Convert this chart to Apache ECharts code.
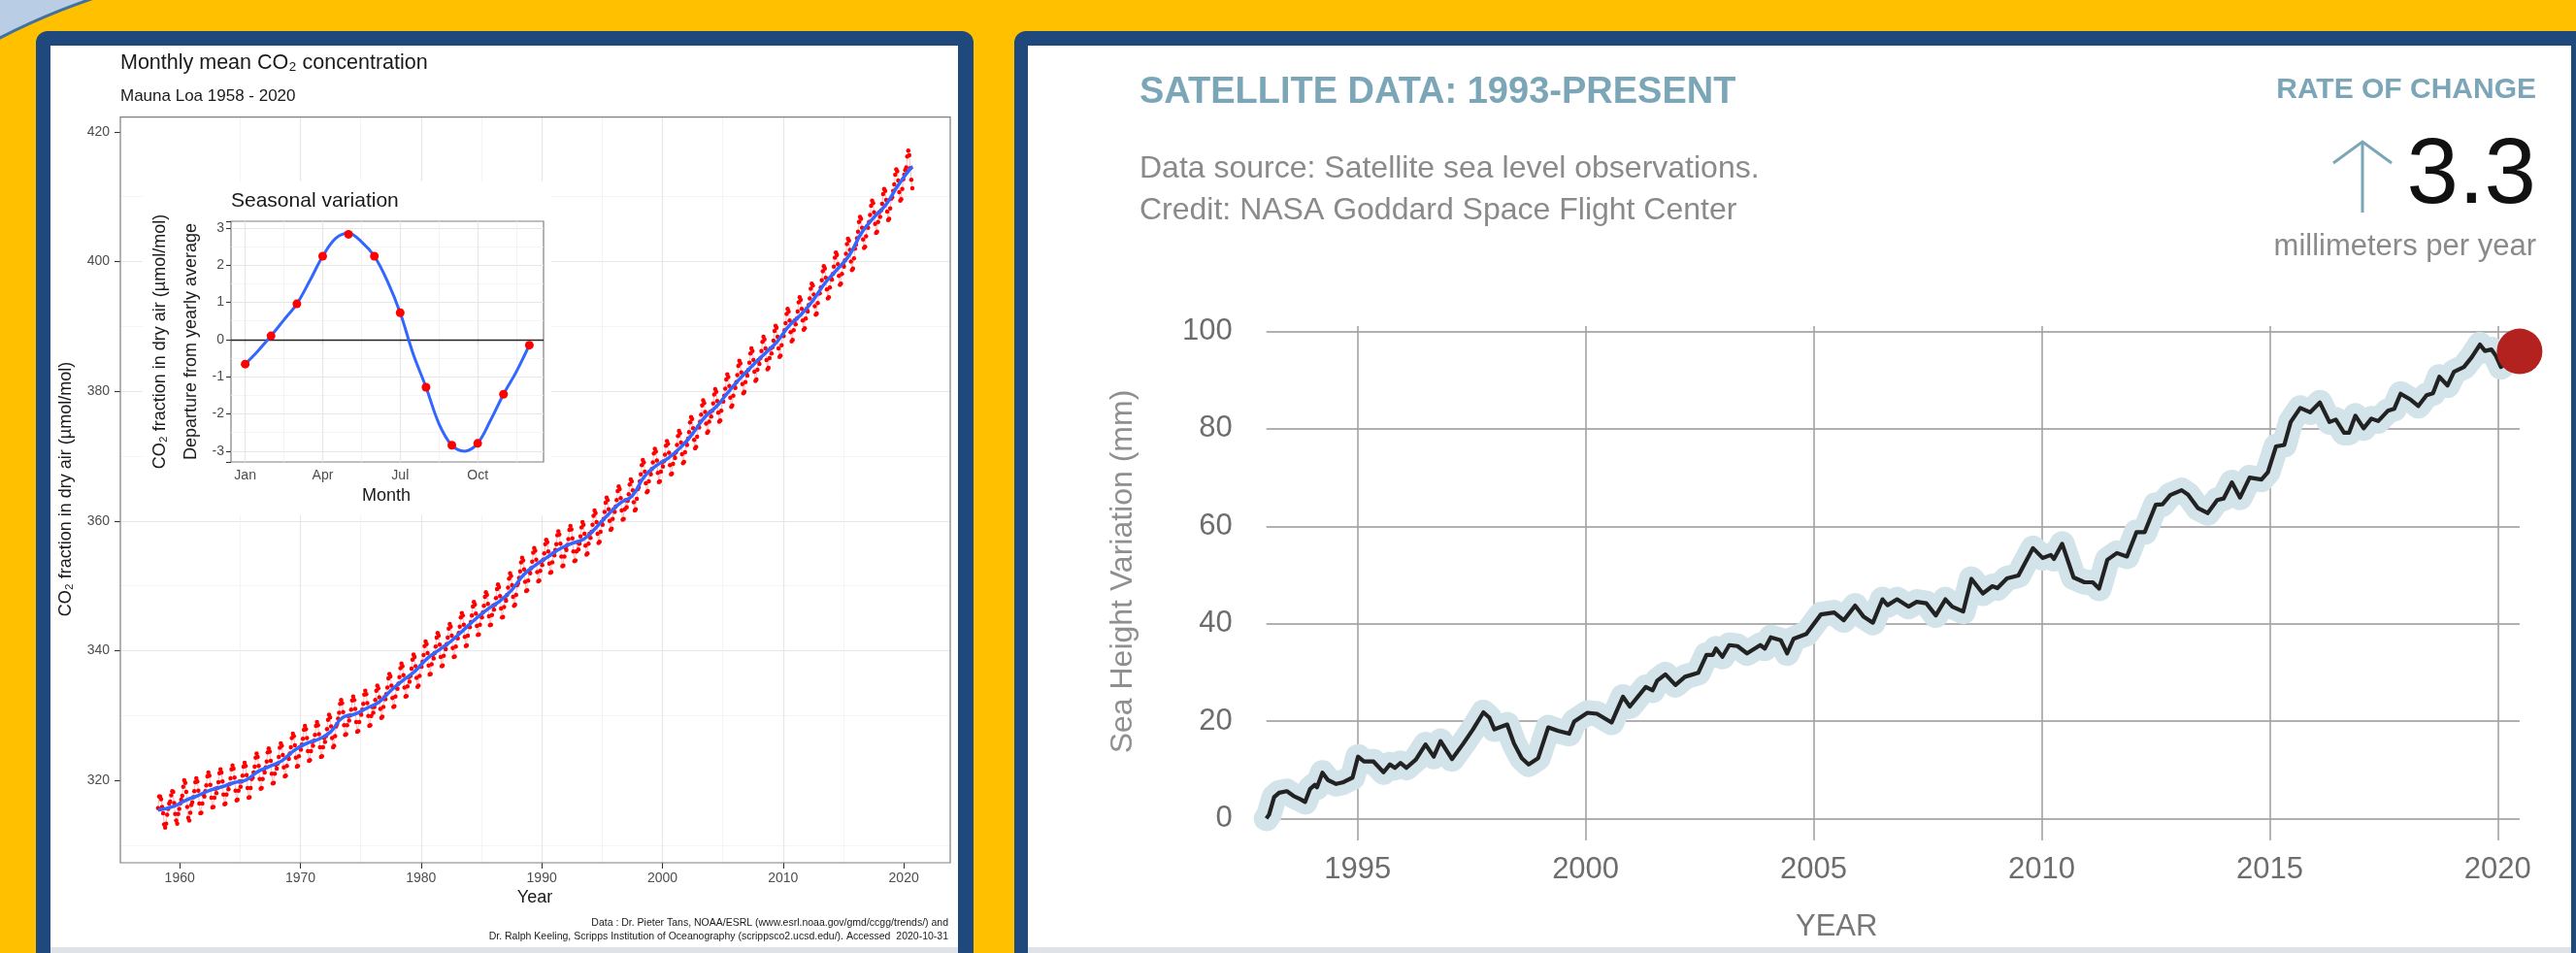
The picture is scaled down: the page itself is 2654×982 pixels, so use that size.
<!DOCTYPE html>
<html><head><meta charset="utf-8">
<script src="https://cdn.jsdelivr.net/npm/echarts@6/dist/echarts.min.js"></script>
<style>html,body{margin:0;padding:0;background:#B9CDE5;}#chart{width:2654px;height:982px;}</style>
</head><body><div id="chart"></div>
<script>
// ---------------- DATA ----------------
// Mauna Loa monthly mean CO2 (ppm), starting March 1958
const co2StartYear = 1958, co2StartMonth = 3;
const co2Monthly = [
315.7,317.5,317.5,317.1,315.9,314.9,313.2,312.7,313.3,314.7,
315.6,316.4,316.7,317.7,318.3,318.2,316.5,314.8,313.8,313.3,314.8,315.6,
316.4,317.0,317.6,319.0,320.0,319.6,318.2,315.9,314.2,313.8,315.0,316.2,
316.6,317.4,318.3,319.7,320.3,319.8,318.4,316.4,314.9,315.0,316.4,317.8,
317.5,318.3,319.2,320.6,321.2,320.7,319.3,317.3,315.8,315.9,317.3,318.7,
318.0,318.8,319.7,321.1,321.7,321.2,319.8,317.8,316.3,316.4,317.8,319.2,
318.6,319.4,320.3,321.7,322.3,321.8,320.4,318.4,316.9,317.0,318.4,319.8,
319.0,319.8,320.7,322.1,322.7,322.2,320.8,318.8,317.3,317.4,318.8,320.2,
320.4,321.2,322.1,323.5,324.1,323.6,322.2,320.2,318.7,318.8,320.2,321.6,
321.2,322.0,322.9,324.3,324.9,324.4,323.0,321.0,319.5,319.6,321.0,322.4,
321.8,322.6,323.6,325.0,325.7,325.3,323.9,322.0,320.6,320.7,322.2,323.6,
323.3,324.1,325.1,326.5,327.2,326.8,325.4,323.5,322.1,322.2,323.7,325.1,
324.7,325.5,326.4,327.8,328.4,327.9,326.5,324.5,323.0,323.1,324.5,325.9,
325.3,326.1,327.0,328.4,329.0,328.5,327.1,325.1,323.6,323.7,325.1,326.5,
325.9,326.8,327.9,329.3,330.1,329.7,328.3,326.5,325.1,325.3,326.8,328.3,
328.7,329.5,330.4,331.8,332.4,331.9,330.5,328.5,327.0,327.1,328.5,329.9,
329.2,330.0,330.9,332.3,332.9,332.4,331.0,329.0,327.5,327.6,329.0,330.4,
330.1,330.9,331.8,333.2,333.8,333.3,331.9,329.9,328.4,328.5,329.9,331.3,
330.4,331.3,332.4,333.8,334.6,334.2,332.8,331.0,329.6,329.8,331.3,332.8,
332.5,333.3,334.3,335.7,336.4,336.0,334.6,332.7,331.3,331.4,332.9,334.3,
334.1,334.9,335.9,337.3,338.0,337.6,336.2,334.3,332.9,333.0,334.5,335.9,
335.2,336.1,337.2,338.6,339.4,339.0,337.6,335.8,334.4,334.6,336.1,337.6,
337.5,338.3,339.3,340.7,341.4,341.0,339.6,337.7,336.3,336.4,337.9,339.3,
338.8,339.6,340.6,342.0,342.7,342.3,340.9,339.0,337.6,337.7,339.2,340.6,
340.2,341.0,342.0,343.4,344.1,343.7,342.3,340.4,339.0,339.1,340.6,342.0,
341.9,342.7,343.7,345.1,345.8,345.4,344.0,342.1,340.7,340.8,342.3,343.7,
343.6,344.4,345.4,346.8,347.5,347.1,345.7,343.8,342.4,342.5,344.0,345.4,
345.1,345.9,346.9,348.3,349.0,348.6,347.2,345.3,343.9,344.0,345.5,346.9,
346.3,347.1,348.1,349.5,350.2,349.8,348.4,346.5,345.1,345.2,346.7,348.1,
347.7,348.6,349.7,351.1,351.9,351.5,350.1,348.3,346.9,347.1,348.6,350.1,
350.4,351.2,352.2,353.6,354.3,353.9,352.5,350.6,349.2,349.3,350.8,352.2,
351.9,352.7,353.7,355.1,355.8,355.4,354.0,352.1,350.7,350.8,352.3,353.7,
353.2,354.0,355.0,356.4,357.1,356.7,355.3,353.4,352.0,352.1,353.6,355.0,
354.7,355.5,356.4,357.8,358.4,357.9,356.5,354.5,353.0,353.1,354.5,355.9,
355.5,356.3,357.2,358.6,359.2,358.7,357.3,355.3,353.8,353.9,355.3,356.7,
355.6,356.5,357.6,359.0,359.8,359.4,358.0,356.2,354.8,355.0,356.5,358.0,
357.4,358.3,359.4,360.8,361.6,361.2,359.8,358.0,356.6,356.8,358.3,359.8,
359.4,360.3,361.4,362.8,363.6,363.2,361.8,360.0,358.6,358.8,360.3,361.8,
361.4,362.2,363.2,364.6,365.3,364.9,363.5,361.6,360.2,360.3,361.8,363.2,
362.1,363.1,364.1,365.6,366.4,366.1,364.7,362.9,361.6,361.8,363.4,364.9,
365.2,366.1,367.2,368.6,369.4,369.0,367.6,365.8,364.4,364.6,366.1,367.6,
367.2,368.0,369.0,370.4,371.1,370.7,369.3,367.4,366.0,366.1,367.6,369.0,
368.4,369.2,370.2,371.6,372.3,371.9,370.5,368.6,367.2,367.3,368.8,370.2,
369.7,370.6,371.7,373.1,373.9,373.5,372.1,370.3,368.9,369.1,370.6,372.1,
371.7,372.7,373.7,375.2,376.0,375.7,374.3,372.5,371.2,371.4,373.0,374.5,
374.4,375.3,376.4,377.8,378.6,378.2,376.8,375.0,373.6,373.8,375.3,376.8,
376.1,377.0,378.1,379.5,380.3,379.9,378.5,376.7,375.3,375.5,377.0,378.5,
378.4,379.3,380.4,381.8,382.6,382.2,380.8,379.0,377.6,377.8,379.3,380.8,
380.5,381.4,382.5,383.9,384.7,384.3,382.9,381.1,379.7,379.9,381.4,382.9,
382.4,383.3,384.4,385.8,386.6,386.2,384.8,383.0,381.6,381.8,383.3,384.8,
384.2,385.1,386.2,387.6,388.4,388.0,386.6,384.8,383.4,383.6,385.1,386.6,
385.8,386.8,387.8,389.3,390.1,389.8,388.4,386.6,385.3,385.5,387.1,388.6,
388.5,389.4,390.5,391.9,392.7,392.3,390.9,389.1,387.7,387.9,389.4,390.9,
390.3,391.2,392.3,393.7,394.5,394.1,392.7,390.9,389.5,389.7,391.2,392.7,
392.3,393.3,394.3,395.8,396.6,396.3,394.9,393.1,391.8,392.0,393.6,395.1,
395.1,396.0,397.1,398.5,399.3,398.9,397.5,395.7,394.3,394.5,396.0,397.5,
397.2,398.1,399.2,400.6,401.4,401.0,399.6,397.8,396.4,396.6,398.1,399.6,
399.2,400.2,401.2,402.7,403.5,403.2,401.8,400.0,398.7,398.9,400.5,402.0,
402.6,403.6,404.6,406.1,406.9,406.6,405.2,403.4,402.1,402.3,403.9,405.4,
405.2,406.1,407.2,408.6,409.4,409.0,407.6,405.8,404.4,404.6,406.1,407.6,
406.9,407.9,408.9,410.4,411.2,410.9,409.5,407.7,406.4,406.6,408.2,409.7,
409.9,410.9,411.9,413.4,414.2,413.9,412.5,410.7,409.4,409.6,411.2,412.7,
413.4,414.1,414.5,416.2,417.1,416.4,414.4,412.6,411.3
];
// smoothed trend (blue line)
const co2TrendYears = [1958.2,1959.5,1960.5,1961.5,1962.5,1963.5,1964.5,1965.5,1966.5,1967.5,1968.5,1969.5,1970.5,1971.5,1972.5,1973.5,1974.5,1975.5,1976.5,1977.5,1978.5,1979.5,1980.5,1981.5,1982.5,1983.5,1984.5,1985.5,1986.5,1987.5,1988.5,1989.5,1990.5,1991.5,1992.5,1993.5,1994.5,1995.5,1996.5,1997.5,1998.5,1999.5,2000.5,2001.5,2002.5,2003.5,2004.5,2005.5,2006.5,2007.5,2008.5,2009.5,2010.5,2011.5,2012.5,2013.5,2014.5,2015.5,2016.5,2017.5,2018.5,2019.5,2020.5,2020.75];
const co2TrendValues = [315.4,315.98,316.91,317.64,318.45,318.99,319.62,320.04,321.37,322.18,323.05,324.62,325.68,326.32,327.46,329.68,330.19,331.12,332.03,333.84,335.41,336.84,338.76,340.12,341.48,343.15,344.85,346.35,347.61,349.31,351.69,353.20,354.45,355.70,356.54,357.21,358.96,360.97,362.74,363.88,366.84,368.54,369.71,371.32,373.45,375.98,377.70,379.98,382.09,384.02,385.83,387.64,390.10,391.85,394.06,396.74,398.81,401.01,404.41,406.76,408.72,411.66,414.24,414.6];
const co2YearTicks = [1960,1970,1980,1990,2000,2010,2020];
const co2ValueTicks = [320,340,360,380,400,420];

// Seasonal variation inset
const seasonalMonths = [1,2,3,4,5,6,7,8,9,10,11,12];
const seasonalValues = [-0.66,0.10,0.96,2.24,2.83,2.24,0.72,-1.28,-2.84,-2.79,-1.47,-0.15];
const seasonalCurveMonths = [1,1.5,2,2.5,3,3.5,4,4.5,5,5.5,6,6.5,7,7.5,8,8.5,9,9.5,10,10.5,11,11.5,12];
const seasonalCurveValues = [-0.66,-0.30,0.10,0.53,0.96,1.58,2.24,2.72,2.86,2.63,2.24,1.58,0.72,-0.38,-1.28,-2.26,-2.84,-3.0,-2.79,-2.17,-1.47,-0.86,-0.15];
const monthTickValues = [1,4,7,10];
const monthTickNames = ['Jan','Apr','Jul','Oct'];
const monthMinorLines = [2.5,5.5,8.5,11.5];

// Satellite sea level (mm)
const seaYears = [1993.0,1993.06,1993.17,1993.28,1993.45,1993.6,1993.74,1993.85,1993.96,1994.06,1994.11,1994.23,1994.35,1994.53,1994.67,1994.89,1995.01,1995.14,1995.35,1995.57,1995.71,1995.82,1995.94,1996.07,1996.28,1996.49,1996.67,1996.82,1997.07,1997.32,1997.53,1997.76,1997.89,1998.0,1998.28,1998.43,1998.6,1998.75,1998.96,1999.18,1999.39,1999.64,1999.75,2000.04,2000.25,2000.57,2000.82,2000.97,2001.32,2001.47,2001.57,2001.75,2001.97,2002.18,2002.47,2002.65,2002.79,2002.86,2003.0,2003.15,2003.33,2003.54,2003.83,2003.93,2004.06,2004.28,2004.42,2004.56,2004.84,2005.16,2005.45,2005.66,2005.91,2006.09,2006.3,2006.51,2006.62,2006.83,2007.08,2007.26,2007.47,2007.68,2007.89,2008.04,2008.28,2008.46,2008.71,2008.92,2009.03,2009.24,2009.49,2009.81,2010.02,2010.2,2010.27,2010.45,2010.7,2010.94,2011.12,2011.26,2011.44,2011.65,2011.87,2012.08,2012.26,2012.5,2012.65,2012.82,2013.07,2013.21,2013.43,2013.64,2013.85,2013.99,2014.17,2014.35,2014.56,2014.82,2014.96,2015.14,2015.32,2015.46,2015.67,2015.89,2016.1,2016.31,2016.45,2016.63,2016.74,2016.88,2017.06,2017.23,2017.38,2017.59,2017.73,2017.87,2018.09,2018.26,2018.44,2018.58,2018.72,2018.9,2019.04,2019.26,2019.43,2019.61,2019.72,2019.86,2019.96,2020.07,2020.48];
const seaValues = [0.0,0.8,4.4,5.3,5.6,4.6,4.0,3.4,6.1,6.9,6.4,9.4,7.9,7.1,7.4,8.4,12.7,11.7,11.7,9.5,11.1,10.4,11.4,10.4,12.1,15.2,12.7,15.9,12.2,15.4,18.3,21.8,20.7,18.3,19.3,15.4,12.4,11.1,12.4,18.7,18.0,17.4,19.9,21.7,21.5,19.7,25.0,23.0,27.0,26.3,28.3,29.6,27.4,29.1,29.9,33.6,33.6,34.9,33.2,35.6,35.4,33.9,35.6,34.9,37.2,36.6,33.9,36.9,37.9,41.9,42.3,40.7,43.7,41.5,40.2,45.0,43.8,45.0,43.5,44.5,44.2,41.7,45.0,43.5,42.5,49.2,46.2,47.7,47.3,49.3,49.9,55.5,53.5,54.1,53.3,56.4,49.5,48.5,48.5,47.2,53.1,54.5,53.8,58.8,58.8,64.4,64.5,66.4,67.4,66.5,63.7,62.7,65.4,65.7,69.0,65.9,70.0,69.6,71.1,76.4,76.7,81.4,84.3,83.4,85.4,81.4,81.9,79.2,79.2,82.7,80.1,82.1,81.6,83.7,84.1,87.2,86.0,84.7,86.9,87.3,90.7,88.9,91.7,92.7,94.7,97.3,96.0,96.3,95.0,92.7,95.9];
const seaYearTicks = [1995,2000,2005,2010,2015,2020];
const seaValueTicks = [0,20,40,60,80,100];
const rateOfChange = '3.3';

// ---------------- CHART ----------------
const FONT = '"Liberation Sans", Arial, Helvetica, sans-serif';
const chart = echarts.init(document.getElementById('chart'), null, {renderer: 'canvas', width: 2654, height: 982});

const co2Points = co2Monthly.map((v, i) => [co2StartYear + (co2StartMonth - 1 + i + 0.5) / 12, v]);
const co2Trend = co2TrendYears.map((y, i) => [y, co2TrendValues[i]]);
const seasonalPts = seasonalMonths.map((m, i) => [m, seasonalValues[i]]);
const seasonalCurve = seasonalCurveMonths.map((m, i) => [m, seasonalCurveValues[i]]);
const seaPts = seaYears.map((y, i) => [y, seaValues[i]]);
const seaLast = seaPts[seaPts.length - 1];

function txt(text, x, y, size, color, o) {
  o = o || {};
  const al = o.align || 'left';
  return {type: 'text', x: x, y: y, z: o.z == null ? 20 : o.z, rotation: o.rotation || 0, silent: true,
    style: {text: text, fill: color, fontSize: size, fontFamily: FONT, fontWeight: o.weight || 'normal',
      align: al, verticalAlign: 'middle', textAlign: al, textVerticalAlign: 'middle'}};
}
function rect(x, y, w, h, fill, z, extra) {
  const e = {type: 'rect', z: z, silent: true, shape: {x: x, y: y, width: w, height: h, r: (extra && extra.r) || 0},
    style: {fill: fill}};
  if (extra && extra.stroke) { e.style.stroke = extra.stroke; e.style.lineWidth = extra.lineWidth; }
  return e;
}

const minorGrid = {show: true, lineStyle: {color: '#f1f1f1', width: 0.8}};
const majorGrid = {show: true, lineStyle: {color: '#e6e6e6', width: 1.2}};
const tickLbl = {color: '#4d4d4d', fontSize: 14, fontFamily: FONT};

const option = {
  animation: false,
  textStyle: {fontFamily: FONT},
  grid: [
    {left: 124, top: 120.7, width: 855, height: 768.3, show: true, borderColor: '#7f7f7f', borderWidth: 1.2, backgroundColor: 'transparent', z: 1},
    {left: 238, top: 228, width: 322, height: 248, show: true, borderColor: '#7f7f7f', borderWidth: 1.2, backgroundColor: 'transparent', z: 6},
    {left: 1304.7, top: 336, width: 1291.2, height: 530, show: false}
  ],
  xAxis: [
    {type: 'value', gridIndex: 0, min: 1955.08, max: 2023.85, axisLine: {show: false},
     axisTick: {show: true, length: 6, lineStyle: {color: '#333', width: 1.1}, customValues: co2YearTicks},
     axisLabel: Object.assign({margin: 9, customValues: co2YearTicks, formatter: v => co2YearTicks.includes(v) ? String(v) : ''}, tickLbl),
     splitLine: Object.assign({showMinLine: false, showMaxLine: false}, majorGrid), minorTick: {show: false, splitNumber: 2}, minorSplitLine: minorGrid},
    {type: 'value', gridIndex: 1, min: 0.45, max: 12.55, z: 6, axisLine: {show: false},
     axisTick: {show: true, length: 5, lineStyle: {color: '#333', width: 1.1}, customValues: monthTickValues},
     axisLabel: Object.assign({margin: 7, customValues: monthTickValues, formatter: v => { const k = monthTickValues.indexOf(v); return k >= 0 ? monthTickNames[k] : ''; }}, tickLbl),
     splitLine: {show: false}},
    {type: 'value', gridIndex: 2, min: 1993, max: seaLast[0], axisLine: {show: false}, axisTick: {show: false},
     axisLabel: {margin: 15, color: '#6d6d6d', fontSize: 31, fontFamily: FONT, formatter: v => seaYearTicks.includes(v) ? String(v) : ''},
     splitLine: {show: true, showMinLine: false, showMaxLine: false, lineStyle: {color: '#a3a3a3', width: 1.6}}}
  ],
  yAxis: [
    {type: 'value', gridIndex: 0, min: 307.28, max: 422.27, axisLine: {show: false},
     axisTick: {show: true, length: 6, lineStyle: {color: '#333', width: 1.1}, customValues: co2ValueTicks},
     axisLabel: Object.assign({margin: 11, customValues: co2ValueTicks, formatter: v => co2ValueTicks.includes(v) ? String(v) : ''}, tickLbl),
     splitLine: Object.assign({showMinLine: false, showMaxLine: false}, majorGrid), minorTick: {show: false, splitNumber: 2}, minorSplitLine: minorGrid},
    {type: 'value', gridIndex: 1, min: -3.29, max: 3.18, z: 6, axisLine: {show: false},
     axisTick: {show: true, length: 5, lineStyle: {color: '#333', width: 1.1}},
     axisLabel: Object.assign({margin: 7, formatter: v => Number.isInteger(v) ? String(v) : ''}, tickLbl),
     splitLine: Object.assign({showMinLine: false, showMaxLine: false}, majorGrid), minorTick: {show: false, splitNumber: 2}, minorSplitLine: minorGrid},
    {type: 'value', gridIndex: 2, min: -4.5, max: 101.1, axisLine: {show: false}, axisTick: {show: false},
     axisLabel: {margin: 35, color: '#6d6d6d', fontSize: 31, fontFamily: FONT, formatter: v => seaValueTicks.includes(v) ? String(v) : ''},
     splitLine: {show: true, showMinLine: false, showMaxLine: false, lineStyle: {color: '#b0b0b0', width: 2.2}}}
  ],
  series: [
    // main CO2 chart
    {type: 'line', xAxisIndex: 0, yAxisIndex: 0, data: co2Points, z: 3, symbol: 'circle', symbolSize: 4.5,
     itemStyle: {color: '#ff0000'}, lineStyle: {color: 'rgba(255,60,60,0.35)', width: 1}, silent: true},
    {type: 'line', xAxisIndex: 0, yAxisIndex: 0, data: co2Trend, z: 4, smooth: true, symbol: 'none',
     lineStyle: {color: '#3366FF', width: 3.5}, silent: true},
    // inset helper: gridlines + zero line
    {type: 'line', xAxisIndex: 1, yAxisIndex: 1, data: [], z: 6.5, silent: true,
     markLine: {z: 6.5, silent: true, symbol: 'none', label: {show: false}, animation: false,
       data: monthTickValues.map(v => ({xAxis: v, lineStyle: {color: '#e6e6e6', width: 1.2, type: 'solid'}}))
         .concat(monthMinorLines.map(v => ({xAxis: v, lineStyle: {color: '#f1f1f1', width: 0.8, type: 'solid'}})))
         .concat([{yAxis: 0, lineStyle: {color: '#222', width: 1.4, type: 'solid'}}])}},
    {type: 'line', xAxisIndex: 1, yAxisIndex: 1, data: seasonalCurve, z: 8, smooth: 0.35, symbol: 'none',
     lineStyle: {color: '#3366FF', width: 3}, silent: true},
    {type: 'scatter', xAxisIndex: 1, yAxisIndex: 1, data: seasonalPts, z: 9, symbolSize: 9,
     itemStyle: {color: '#ff0000', opacity: 1}, silent: true},
    // sea level
    {type: 'line', xAxisIndex: 2, yAxisIndex: 2, data: seaPts, z: 2, symbol: 'none', silent: true,
     lineStyle: {color: '#d2e3ea', width: 26, join: 'round', cap: 'round'}},
    {type: 'line', xAxisIndex: 2, yAxisIndex: 2, data: seaPts, z: 3, symbol: 'none', silent: true,
     lineStyle: {color: '#222222', width: 4.2, join: 'round'}},
    {type: 'scatter', xAxisIndex: 2, yAxisIndex: 2, data: [seaLast], z: 5, symbolSize: 47, clip: false,
     itemStyle: {color: '#B3221F', opacity: 1}, silent: true}
  ],
  graphic: {elements: [
    rect(0, 0, 2654, 982, '#B9CDE5', -10),
    rect(-373, -38, 3600, 2200, '#FFC000', -9, {r: [690, 0, 0, 0], stroke: '#41719C', lineWidth: 3}),
    rect(37, 32, 966, 1000, '#1F497D', -8, {r: 12}),
    rect(52, 47, 935, 929, '#ffffff', -7),
    rect(52, 976, 935, 6, '#dfe3e8', -7),
    rect(1045, 32, 1700, 1000, '#1F497D', -8, {r: 12}),
    rect(1059, 47, 1590, 929, '#ffffff', -7),
    rect(1059, 976, 1590, 6, '#dfe3e8', -7),
    // inset white box
    rect(147, 187, 421, 344, '#ffffff', 5),
    // left chart texts
    txt('Monthly mean CO\u2082 concentration', 124, 65, 21.5, '#1a1a1a'),
    txt('Mauna Loa 1958 - 2020', 124, 99, 17, '#1a1a1a'),
    txt('CO\u2082 fraction in dry air (\u00b5mol/mol)', 68, 504, 18, '#1a1a1a', {align: 'center', rotation: Math.PI / 2}),
    txt('Year', 551, 925, 18, '#1a1a1a', {align: 'center'}),
    txt('Data : Dr. Pieter Tans, NOAA/ESRL (www.esrl.noaa.gov/gmd/ccgg/trends/) and', 977, 951, 10.5, '#1a1a1a', {align: 'right'}),
    txt('Dr. Ralph Keeling, Scripps Institution of Oceanography (scrippsco2.ucsd.edu/). Accessed  2020-10-31', 977, 965, 10.5, '#1a1a1a', {align: 'right'}),
    // inset texts
    txt('Seasonal variation', 238, 207, 21, '#1a1a1a'),
    txt('Month', 398, 511, 18, '#1a1a1a', {align: 'center'}),
    txt('CO\u2082 fraction in dry air (\u00b5mol/mol)', 165, 352, 18, '#1a1a1a', {align: 'center', rotation: Math.PI / 2}),
    txt('Departure from yearly average', 197, 352, 18, '#1a1a1a', {align: 'center', rotation: Math.PI / 2}),
    // right panel texts
    txt('SATELLITE DATA: 1993-PRESENT', 1174, 96, 38, '#7BA6B7', {weight: 'bold'}),
    txt('Data source: Satellite sea level observations.', 1174, 174, 32, '#8a8a8a'),
    txt('Credit: NASA Goddard Space Flight Center', 1174, 217, 32, '#8a8a8a'),
    txt('RATE OF CHANGE', 2613, 93, 30, '#7BA6B7', {align: 'right', weight: 'bold'}),
    txt(rateOfChange, 2613, 183, 96, '#111111', {align: 'right'}),
    txt('millimeters per year', 2613, 254, 31, '#8a8a8a', {align: 'right'}),
    {type: 'polyline', z: 20, silent: true, shape: {points: [[2404, 168], [2434, 146], [2464, 168]]}, style: {stroke: '#7BA6B7', lineWidth: 3, fill: null}},
    {type: 'line', z: 20, silent: true, shape: {x1: 2434, y1: 146, x2: 2434, y2: 219}, style: {stroke: '#7BA6B7', lineWidth: 3}},
    txt('Sea Height Variation (mm)', 1157, 589, 32, '#8f8f8f', {align: 'center', rotation: Math.PI / 2}),
    txt('YEAR', 1850, 955, 31, '#777777')
  ]}
};
chart.setOption(option);
</script>
</body></html>
